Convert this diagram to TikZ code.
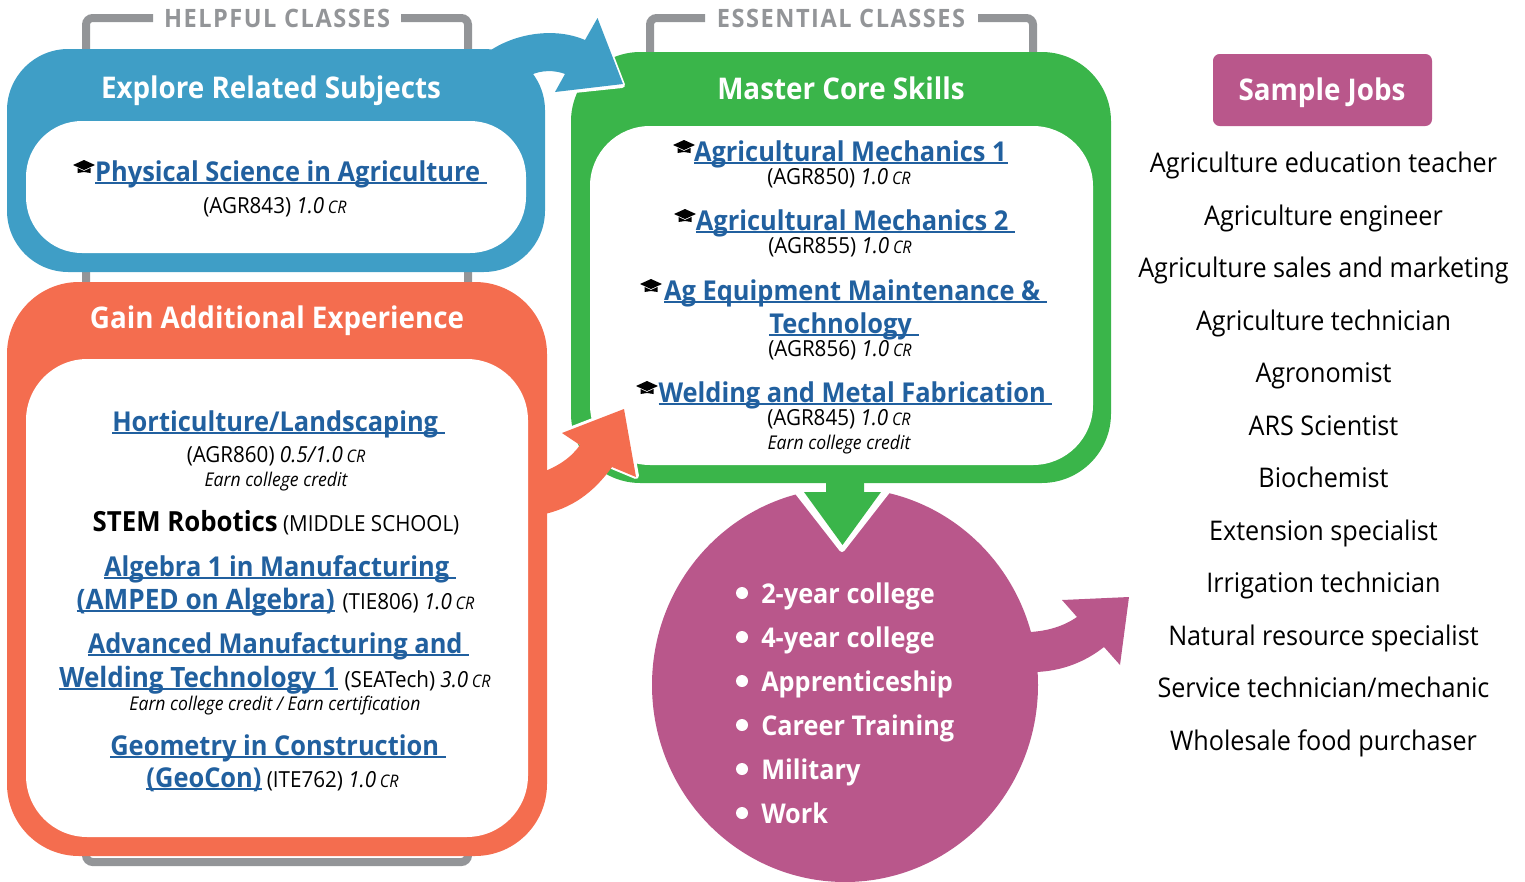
\documentclass[tikz,border=0pt]{standalone}
\usetikzlibrary{shapes.geometric}
\usepackage{fontspec}
\setmainfont{Open Sans}[FakeStretch=0.93]
\definecolor{cblue}{HTML}{3F9EC6}
\definecolor{corange}{HTML}{F46D4F}
\definecolor{cgreen}{HTML}{3AB54A}
\definecolor{cpink}{HTML}{B9578B}
\definecolor{cgray}{HTML}{939598}
\definecolor{clink}{HTML}{21609F}
\newsavebox\lnkbox
\newcommand\lnk[2][20.5]{\sbox\lnkbox{\color{clink}\fontsize{#1}{24}\selectfont\bfseries #2}\rlap{\color{clink}\rule[-2pt]{\wd\lnkbox}{1pt}}\usebox\lnkbox}
\newcommand\crd[1]{{\itshape #1\,{\fontsize{13}{15}\selectfont CR}}}
\tikzset{
  panel/.style n args={3}{draw=none,inner sep=0pt,outer sep=0pt,minimum width=#1*0.75pt,minimum height=#2*0.75pt,rounded corners=#3},
  txt/.style={anchor=base,inner sep=0pt,outer sep=0pt,font=\fontsize{16.6}{19}\selectfont},
  note/.style={txt,font=\fontsize{14.2}{17}\selectfont\itshape},
  title/.style={anchor=base,inner sep=0pt,text=white,font=\fontsize{22.4}{26}\selectfont\bfseries},
  bracket/.style={cgray,line width=6pt,rounded corners=5pt},
  headgray/.style={anchor=base,inner sep=0pt,text=cgray,font=\fontsize{19}{22}\selectfont\bfseries\addfontfeature{LetterSpace=6}},
  job/.style={anchor=base,inner sep=0pt,font=\fontsize{20.3}{24}\selectfont},
  item/.style={anchor=base west,inner sep=0pt,text=white,font=\fontsize{20.4}{24}\selectfont\bfseries},
  dot/.style={circle,fill=white,inner sep=0pt,minimum size=9pt},
  halo/.style={draw=white,line width=4.5pt,line join=round,fill=white},
  gradcap/.pic={
    \fill[black] (-11,-1) -- (0,-6) -- (11,-1) -- (0,4) -- cycle;
    \fill[black] (-6.5,2) -- (0,5) -- (6.5,2) -- (6.5,7) -- (0,6) -- (-6.5,7) -- cycle;
  }
}
\begin{document}
\begin{tikzpicture}[x=0.75pt,y=-0.75pt]
\useasboundingbox (0,0) rectangle (1525,882);
% brackets
\coordinate (hL) at (153,18); \coordinate (hR) at (401,18);
\coordinate (eL) at (705,18); \coordinate (eR) at (978,18);
\draw[bracket] (hL) -- (86,18) -- (86,862) -- (468,862) -- (468,18) -- (hR);
\draw[bracket] (eL) -- (650,18) -- (650,80) (1033,80) -- (1033,18) -- (eR);
\node[headgray] (hHelp) at (277,27) {HELPFUL CLASSES};
\node[headgray] (hEss) at (841,27) {ESSENTIAL CLASSES};
% green panel
\node[panel={540}{431}{52pt},fill=cgreen] (greenP) at (841,267.5) {};
\node[panel={503}{339}{45pt},fill=white] (greenI) at (841.5,295.5) {};
% pink shape
\node[ellipse,fill=cpink,minimum width=386*0.75pt,minimum height=394*0.75pt,inner sep=0pt,outer sep=0pt] (pinkC) at (845,685) {};
% pink arrow
\fill[cpink] (1030,632) .. controls (1048,631) and (1064,626) .. (1077,617) -- (1062,600) -- (1129,597) -- (1120,665) -- (1104,647) .. controls (1085,662) and (1062,671) .. (1036,672) -- cycle;
% green arrow
\draw[halo] (796,490) -- (842,549) -- (888,490);
\fill[white] (796,490) -- (842,549) -- (888,490) -- cycle;
\fill[white] (780,484) rectangle (905,491);
\fill[cgreen] (826,480) -- (864,480) -- (864,492) -- (881,492) -- (842.5,545) -- (804,492) -- (826,492) -- cycle;
% blue panel
\draw[halo] (597,20) -- (622,85) -- (555,92);
\node[panel={538}{223}{46pt},fill=cblue] (blueP) at (276,160.5) {};
\node[panel={500}{132}{42pt},fill=white] (blueI) at (276,187) {};
\fill[cblue] (488,52) .. controls (515,33) and (555,27) .. (585,40) -- (597.5,18) -- (623,84) -- (555,92) -- (565,74) .. controls (555,70) and (541,70) .. (531,75) -- (500,90) -- cycle;
% orange panel
\draw[halo] (562,433) -- (624,409) -- (636,476) -- (612,466);
\node[panel={540}{574}{54pt},fill=corange] (orangeP) at (277,569) {};
\node[panel={502}{478}{46pt},fill=white] (orangeI) at (277,598) {};
\fill[corange] (540,473) .. controls (557,467) and (571,458) .. (580,445) -- (562,433) -- (624,409) -- (636,477) -- (612,467) .. controls (594,492) and (572,509) .. (540,515) -- cycle;
% sample jobs
\node[panel={219}{72}{5pt},fill=cpink] (jobsBox) at (1322.5,90) {};
\node[title] (tJobs) at (1322,100) {Sample Jobs};
% titles
\node[title] (tBlue) at (271,98) {Explore Related Subjects};
\node[title] (tGreen) at (841,99) {Master Core Skills};
\node[title] (tOrange) at (277,328) {Gain Additional Experience};
% blue content
\pic at (84,166) {gradcap};
\node[txt] (b1) at (291,181) {\lnk{Physical Science in Agriculture~}};
\node[txt] (b2) at (275,213) {(AGR843) \crd{1.0}};
% green content
\pic at (684,146) {gradcap};
\node[txt] (g1) at (851,161) {\lnk{Agricultural Mechanics 1\hspace{1pt}}};
\node[txt] (g1b) at (839,184) {(AGR850) \crd{1.0}};
\pic at (685,215) {gradcap};
\node[txt] (g2) at (855.5,230) {\lnk{Agricultural Mechanics 2~}};
\node[txt] (g2b) at (840,253) {(AGR855) \crd{1.0}};
\pic at (651,285) {gradcap};
\node[txt] (g3) at (855.5,300) {\lnk{Ag Equipment Maintenance \&~}};
\node[txt] (g3a) at (844,333) {\lnk{Technology~}};
\node[txt] (g3b) at (840,356) {(AGR856) \crd{1.0}};
\pic at (647,387) {gradcap};
\node[txt] (g4) at (855.5,402) {\lnk{Welding and Metal Fabrication~}};
\node[txt] (g4b) at (839,425) {(AGR845) \crd{1.0}};
\node[note] (g4c) at (839,449) {Earn college credit};
% orange content
\node[txt] (o1) at (278.5,431) {\lnk{Horticulture/Landscaping~}};
\node[txt] (o1b) at (276,462) {(AGR860) \crd{0.5/1.0}};
\node[note] (o1c) at (276,486) {Earn college credit};
\node[txt] (o2) at (276,531) {{\fontsize{20.8}{24}\selectfont\bfseries STEM Robotics} (MIDDLE SCHOOL)};
\node[txt] (o3) at (280,576) {\lnk{Algebra 1 in Manufacturing~}};
\node[txt] (o3a) at (275.5,609) {\lnk[21.1]{(AMPED on Algebra)}\hspace{2pt} (TIE806) \crd{1.0}};
\node[txt] (o4) at (278.5,653) {\lnk{Advanced Manufacturing and~}};
\node[txt] (o4a) at (275,687) {\lnk[21]{Welding Technology 1}\hspace{1pt} (SEATech) \crd{3.0}};
\node[note] (o4b) at (275,710) {Earn college credit / Earn certification};
\node[txt] (o5) at (278,755) {\lnk{Geometry in Construction~}};
\node[txt] (o5a) at (272.5,787) {\lnk{(GeoCon)} (ITE762) \crd{1.0}};
% list
\foreach \n/\y/\t in {a/593/2-year college,b/637/4-year college,c/681/Apprenticeship,d/725/Career Training,e/769/Military,f/813/Work}{
  \node[dot] (dot\n) at (742,\y) {};
  \node[item] (it\n) at (761,\y+10) {\t};
}
% jobs
\foreach \n/\y/\t in {a/162/Agriculture education teacher,b/215/Agriculture engineer,c/267/Agriculture sales and marketing,d/320/Agriculture technician,e/372/Agronomist,f/425/ARS Scientist,g/477/Biochemist,h/530/Extension specialist,i/582/Irrigation technician,j/635/Natural resource specialist,k/687/{Service technician/mechanic},l/740/Wholesale food purchaser}{
  \node[job] (job\n) at (1323.5,\y+10) {\t};
}
\end{tikzpicture}
\end{document}
